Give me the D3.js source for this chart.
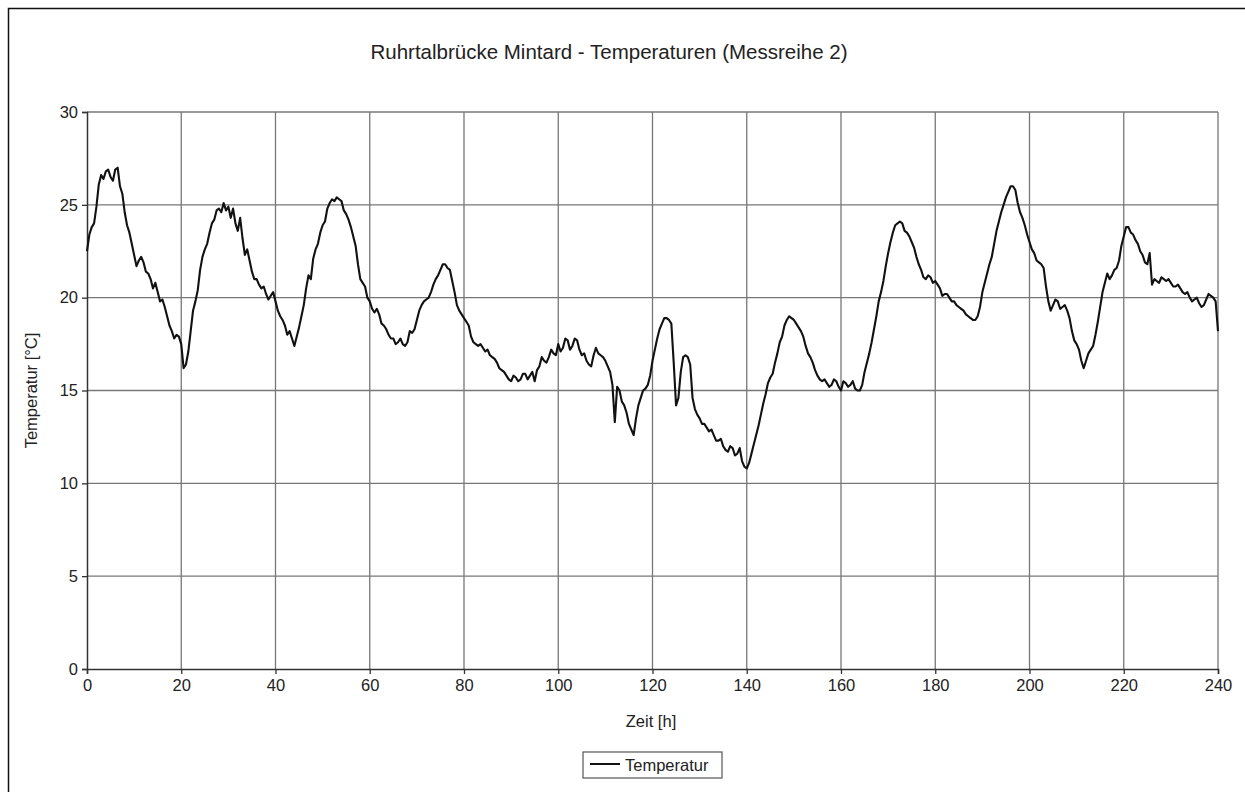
<!DOCTYPE html>
<html>
<head>
<meta charset="utf-8">
<script src="https://cdn.jsdelivr.net/npm/d3@7"></script>
<style>
  body { margin: 0; background: #fff; }
  svg text { font-family: "Liberation Sans", Arial, sans-serif; fill: #222; }
</style>
</head>
<body>
<div id="chart"></div>
<script>
// readings on the full hour, hour 0..240
var hourTemps = [
  22.5, 23.8, 24.9, 26.6, 26.8, 26.5, 26.9, 26.0, 24.6, 23.5,
  22.3, 22.0, 21.9, 21.3, 20.5, 20.3, 19.9, 19.0, 18.2, 18.0,
  17.5, 16.4, 18.2, 19.8, 21.5, 22.6, 23.5, 24.2, 24.8, 25.1,
  24.9, 24.8, 23.6, 23.2, 22.6, 21.4, 21.0, 20.5, 20.2, 20.1,
  19.8, 19.0, 18.5, 18.2, 17.4, 18.4, 19.6, 21.2, 22.1, 22.9,
  23.9, 24.8, 25.3, 25.4, 25.2, 24.5, 23.8, 22.8, 21.0, 20.6,
  19.8, 19.2, 19.1, 18.5, 18.0, 17.8, 17.6, 17.5, 17.6, 18.1,
  18.8, 19.6, 19.9, 20.3, 21.0, 21.5, 21.8, 21.5, 20.3, 19.3,
  18.9, 18.5, 17.6, 17.4, 17.3, 17.2, 16.8, 16.5, 16.1, 15.8,
  15.5, 15.7, 15.6, 15.9, 15.8, 15.5, 16.3, 16.6, 16.8, 17.0,
  17.5, 17.3, 17.7, 17.4, 17.7, 16.9, 16.6, 16.3, 17.3, 16.9,
  16.6, 16.0, 13.3, 15.0, 14.2, 13.2, 12.6, 14.2, 15.0, 15.3,
  16.6, 17.8, 18.6, 18.9, 18.6, 14.2, 16.0, 16.9, 16.4, 14.0,
  13.5, 13.2, 12.8, 12.6, 12.3, 12.0, 11.7, 11.9, 11.6, 11.2,
  10.8, 11.6, 12.6, 13.7, 14.8, 15.7, 16.5, 17.6, 18.5, 19.0,
  18.8, 18.4, 17.9, 17.0, 16.5, 15.8, 15.5, 15.4, 15.3, 15.5,
  15.0, 15.4, 15.3, 15.1, 15.0, 16.0, 17.0, 18.3, 19.8, 20.9,
  22.4, 23.5, 24.0, 24.0, 23.5, 23.0, 22.2, 21.5, 21.0, 21.1,
  20.9, 20.5, 20.2, 20.0, 19.8, 19.5, 19.3, 19.0, 18.8, 19.0,
  20.3, 21.3, 22.2, 23.6, 24.6, 25.4, 26.0, 25.8, 24.6, 23.9,
  23.0, 22.4, 21.9, 21.6, 19.8, 19.6, 19.8, 19.5, 19.3, 18.2,
  17.5, 16.6, 16.6, 17.2, 18.0, 19.5, 20.8, 21.0, 21.5, 22.0,
  23.3, 23.8, 23.4, 22.9, 22.3, 21.8, 20.7, 20.9, 21.1, 20.9,
  20.8, 20.6, 20.5, 20.2, 20.0, 19.9, 19.7, 19.6, 20.2, 20.0,
  18.2
];
// readings on the half hour, hour 0.5..239.5
var halfHourTemps = [
  23.4, 24.0, 26.1, 26.4, 26.9, 26.3, 27.0, 25.6, 23.9, 22.9,
  21.7, 22.2, 21.4, 21.0, 20.8, 19.8, 19.5, 18.5, 17.8, 17.9,
  16.2, 17.1, 19.3, 20.4, 22.2, 22.9, 24.0, 24.7, 24.6, 24.7,
  24.3, 24.0, 24.3, 22.3, 22.0, 21.0, 20.7, 20.6, 19.9, 20.3,
  19.3, 18.8, 18.0, 17.8, 17.9, 19.0, 20.5, 21.0, 22.6, 23.5,
  24.1, 25.1, 25.2, 25.3, 24.7, 24.2, 23.3, 21.8, 20.8, 20.0,
  19.4, 19.4, 18.6, 18.3, 17.8, 17.5, 17.8, 17.4, 18.2, 18.3,
  19.3, 19.8, 20.0, 20.7, 21.2, 21.8, 21.6, 20.9, 19.6, 19.1,
  18.7, 17.9, 17.5, 17.5, 17.1, 16.9, 16.7, 16.2, 16.0, 15.6,
  15.8, 15.5, 15.9, 15.6, 16.0, 16.1, 16.8, 16.5, 17.2, 16.9,
  17.1, 17.8, 17.2, 17.8, 17.2, 17.0, 16.4, 16.9, 17.0, 16.8,
  16.3, 15.3, 15.2, 14.4, 13.8, 12.9, 13.5, 14.6, 15.1, 15.8,
  17.2, 18.3, 18.9, 18.8, 16.5, 14.6, 16.8, 16.8, 14.6, 13.7,
  13.2, 13.0, 12.9, 12.3, 12.4, 11.8, 12.0, 11.5, 11.9, 10.9,
  11.1, 12.1, 13.1, 14.3, 15.4, 15.9, 17.0, 17.9, 18.8, 18.9,
  18.6, 18.2, 17.4, 16.8, 16.1, 15.6, 15.6, 15.2, 15.6, 15.2,
  15.5, 15.2, 15.5, 15.0, 15.3, 16.5, 17.6, 19.0, 20.3, 21.7,
  23.0, 23.9, 24.1, 23.6, 23.3, 22.7, 21.8, 21.1, 21.2, 20.8,
  20.7, 20.1, 20.2, 19.8, 19.6, 19.4, 19.1, 18.9, 18.8, 19.5,
  20.8, 21.8, 22.9, 24.1, 25.0, 25.7, 26.0, 25.1, 24.3, 23.4,
  22.6, 22.0, 21.8, 20.6, 19.3, 19.9, 19.4, 19.6, 18.9, 17.7,
  17.2, 16.2, 17.0, 17.4, 18.7, 20.3, 21.3, 21.2, 21.6, 22.8,
  23.8, 23.5, 23.1, 22.5, 21.9, 22.4, 21.0, 20.8, 21.0, 21.0,
  20.6, 20.7, 20.3, 20.3, 19.8, 20.0, 19.5, 19.9, 20.1, 19.8
];
var xTicks = [0, 20, 40, 60, 80, 100, 120, 140, 160, 180, 200, 220, 240];
var yTicks = [0, 5, 10, 15, 20, 25, 30];

var title = "Ruhrtalbrücke Mintard - Temperaturen (Messreihe 2)";
var seriesName = "Temperatur";

// merge both reading lists into one time-ordered series
var series = [];
hourTemps.forEach(function(v, h){
  series.push({t: h, v: v});
  if (h < halfHourTemps.length) series.push({t: h + 0.5, v: halfHourTemps[h]});
});

var W = 1245, H = 792;
var pLeft = 87, pRight = 1218, pTop = 112, pBottom = 669;
var fontFamily = "Liberation Sans, Arial, sans-serif";

var svg = d3.select("#chart").append("svg")
  .attr("width", W)
  .attr("height", H);

// outer frame
svg.append("rect")
  .attr("x", 8.5).attr("y", 8.5)
  .attr("width", 1300).attr("height", 900)
  .attr("fill", "none").attr("stroke", "#111").attr("stroke-width", 1.5);

var x = d3.scaleLinear().domain([0, 240]).range([pLeft, pRight]);
var y = d3.scaleLinear().domain([0, 30]).range([pBottom, pTop]);

// grid
svg.append("g").selectAll("line").data(xTicks.slice(1)).enter().append("line")
  .attr("x1", function(d){ return x(d); }).attr("x2", function(d){ return x(d); })
  .attr("y1", pTop).attr("y2", pBottom)
  .attr("stroke", "#777").attr("stroke-width", 1.3);
svg.append("g").selectAll("line").data(yTicks.slice(1)).enter().append("line")
  .attr("x1", pLeft).attr("x2", pRight)
  .attr("y1", function(d){ return y(d); }).attr("y2", function(d){ return y(d); })
  .attr("stroke", "#777").attr("stroke-width", 1.3);

// axes
var xAxis = svg.append("g")
  .attr("transform", "translate(0," + pBottom + ")")
  .call(d3.axisBottom(x).tickValues(xTicks).tickSize(5).tickPadding(5));
var yAxis = svg.append("g")
  .attr("transform", "translate(" + pLeft + ",0)")
  .call(d3.axisLeft(y).tickValues(yTicks).tickSize(5).tickPadding(4));
[xAxis, yAxis].forEach(function(a){
  a.select(".domain").attr("stroke", "#333").attr("stroke-width", 1.5);
  a.selectAll(".tick line").attr("stroke", "#333").attr("stroke-width", 1.3);
  a.selectAll("text").attr("font-size", 16.5).attr("fill", "#222")
    .attr("font-family", fontFamily);
});

// line
var line = d3.line()
  .x(function(d){ return x(d.t); })
  .y(function(d){ return y(d.v); });
svg.append("path")
  .datum(series)
  .attr("d", line)
  .attr("fill", "none")
  .attr("stroke", "#111")
  .attr("stroke-width", 2.1)
  .attr("stroke-linejoin", "round");

// texts
svg.append("text")
  .attr("x", 609).attr("y", 59)
  .attr("text-anchor", "middle")
  .attr("font-size", 20.5)
  .text(title);
svg.append("text")
  .attr("x", 651).attr("y", 727)
  .attr("text-anchor", "middle")
  .attr("font-size", 16.5)
  .text("Zeit [h]");
svg.append("text")
  .attr("transform", "translate(37," + ((pTop + pBottom) / 2) + ") rotate(-90)")
  .attr("text-anchor", "middle")
  .attr("font-size", 16.5)
  .text("Temperatur [°C]");

// legend
var lg = svg.append("g").attr("transform", "translate(583,752)");
lg.append("rect").attr("width", 139).attr("height", 26)
  .attr("fill", "#fff").attr("stroke", "#555").attr("stroke-width", 1.2);
lg.append("line").attr("x1", 7).attr("x2", 37).attr("y1", 12).attr("y2", 12)
  .attr("stroke", "#111").attr("stroke-width", 2);
lg.append("text").attr("x", 42).attr("y", 19).attr("font-size", 16.5).text(seriesName);
</script>
</body>
</html>
